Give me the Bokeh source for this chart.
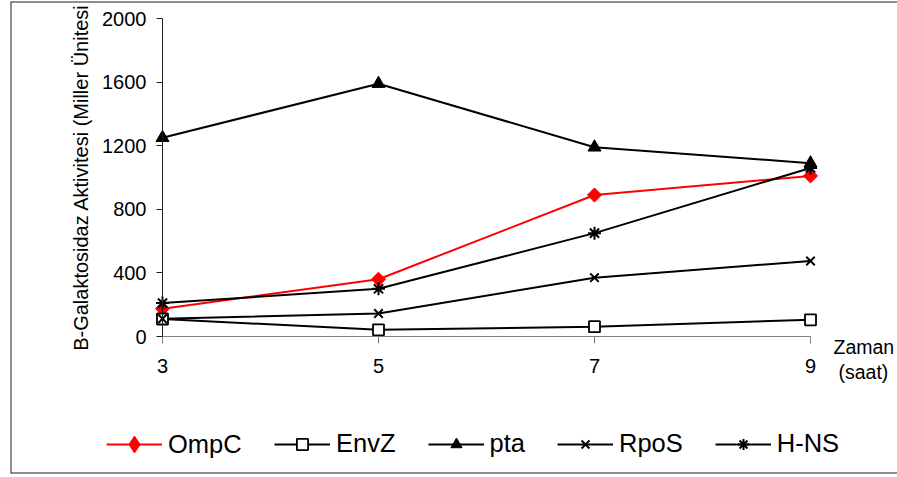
import math
from bokeh.plotting import figure
from bokeh.models import (Range1d, FixedTicker, Legend, LegendItem, Label, BoxAnnotation)
from bokeh.embed import file_html
from bokeh.resources import INLINE

# ---- data ----
hours = [3, 5, 7, 9]
ompc = [175, 360, 890, 1010]
envz = [110, 42, 62, 105]
pta = [1250, 1590, 1190, 1090]
rpos = [112, 145, 370, 475]
hns = [210, 300, 650, 1060]
series_names = ["OmpC", "EnvZ", "pta", "RpoS", "H-NS"]
x_ticks = [3, 5, 7, 9]
y_ticks = [0, 400, 800, 1200, 1600, 2000]
y_title = "B-Galaktosidaz Aktivitesi (Miller Ünitesi"
x_title_1 = "Zaman"
x_title_2 = "(saat)"

FONT = "Liberation Sans"

# ---- layout (pixels) ----
W, H = 897, 477
FL, FR, FT, FB = 10, 897, 1, 473        # frame = bordered box
AX_L, AX_R, AX_T, AX_B = 162, 810, 18, 336  # where the axes sit
x0, x1 = x_ticks[0], x_ticks[-1]
y0, y1 = y_ticks[0], y_ticks[-1]
kx = (AX_R - AX_L) / (x1 - x0)
ky = (AX_B - AX_T) / (y1 - y0)
xr = Range1d(x0 - (AX_L - FL) / kx, x1 + (FR - AX_R) / kx)
yr = Range1d(y0 - (FB - AX_B) / ky, y1 + (AX_T - FT) / ky)

p = figure(width=W, height=H, output_backend="svg", toolbar_location=None,
           x_range=xr, y_range=yr,
           min_border_left=FL, min_border_right=W - FR,
           min_border_top=FT, min_border_bottom=H - FB)
p.outline_line_color = None
p.xgrid.visible = False
p.ygrid.visible = False
p.background_fill_color = "white"
p.border_fill_color = "white"

# outer border (left, top, bottom visible; right lies past the window)
p.add_layout(BoxAnnotation(left=FL, right=FR + 6, top=FT, bottom=FB,
                           left_units="canvas", right_units="canvas",
                           top_units="canvas", bottom_units="canvas",
                           fill_alpha=0, line_color="#1e1e1e", line_alpha=1,
                           line_width=2))

# axes
p.xaxis.fixed_location = 0
p.yaxis.fixed_location = 3
p.xaxis.bounds = (x0, x1)
p.yaxis.bounds = (y0, y1)
p.xaxis.ticker = FixedTicker(ticks=x_ticks)
p.yaxis.ticker = FixedTicker(ticks=y_ticks)
for ax in (p.xaxis[0], p.yaxis[0]):
    ax.minor_tick_line_color = None
    ax.major_tick_in = 0
    ax.major_label_text_font = FONT
    ax.major_label_text_font_size = "20px"
    ax.major_label_text_color = "black"
p.xaxis.axis_line_color = "#808080"
p.xaxis.major_tick_line_color = "#808080"
p.xaxis.major_tick_out = 7
p.xaxis.major_label_standoff = 15
p.yaxis.axis_line_color = "#202020"
p.yaxis.major_tick_line_color = "#202020"
p.yaxis.major_tick_out = 6
p.yaxis.major_label_standoff = 10
p.yaxis.axis_label = y_title
p.yaxis.axis_label_text_font = FONT
p.yaxis.axis_label_text_font_size = "20px"
p.yaxis.axis_label_text_font_style = "normal"
p.yaxis.axis_label_text_color = "black"
p.yaxis.axis_label_standoff = 7

# series
specs = [
    (ompc, "#FF0000", dict(marker="square", angle=math.pi / 4, size=10,
                           fill_color="#FF0000", line_color="#FF0000")),
    (envz, "black", dict(marker="square", size=11, fill_color="white",
                         line_color="black", line_width=1.8)),
    (pta, "black", dict(marker="triangle", size=13, fill_color="black",
                        line_color="black")),
    (rpos, "black", dict(marker="x", size=12, line_color="black", line_width=2)),
    (hns, "black", dict(marker="asterisk", size=13, line_color="black", line_width=2)),
]
r_lines = [p.line(hours, vals, line_color=col, line_width=2) for vals, col, mk in specs]

# OmpC diamond key (legend markers are drawn unrotated); in the plot it sits
# under the rotated square marker drawn next
r_ompc_key = p.scatter(hours, ompc, marker="diamond", size=12,
                       fill_color="#FF0000", line_color="#FF0000", line_width=1)
r_marks = [p.scatter(hours, vals, **mk) for vals, col, mk in specs]

leg_common = dict(orientation="horizontal", glyph_width=56, label_standoff=6,
                  spacing=32, padding=0, margin=0, border_line_color=None,
                  background_fill_alpha=0, label_text_font=FONT,
                  label_text_font_size="25.5px", label_text_color="black")

legend1 = Legend(items=[LegendItem(label=series_names[0],
                                   renderers=[r_lines[0], r_ompc_key])],
                 location=(96, 8), glyph_height=42, **leg_common)
legend2 = Legend(items=[LegendItem(label=n, renderers=[rl, rm])
                        for n, rl, rm in zip(series_names[1:], r_lines[1:], r_marks[1:])],
                 location=(264, 15), glyph_height=28, **leg_common)
p.add_layout(legend1, "center")
p.add_layout(legend2, "center")

p.add_layout(Label(x=x1, y=y0, x_offset=23, y_offset=-10, text=x_title_1,
                   text_font=FONT, text_font_size="19.5px", text_color="black",
                   text_baseline="middle", text_align="left"))
p.add_layout(Label(x=x1, y=y0, x_offset=28, y_offset=-35, text=x_title_2,
                   text_font=FONT, text_font_size="19.5px", text_color="black",
                   text_baseline="middle", text_align="left"))

open("out.html", "w").write(file_html(p, INLINE))
